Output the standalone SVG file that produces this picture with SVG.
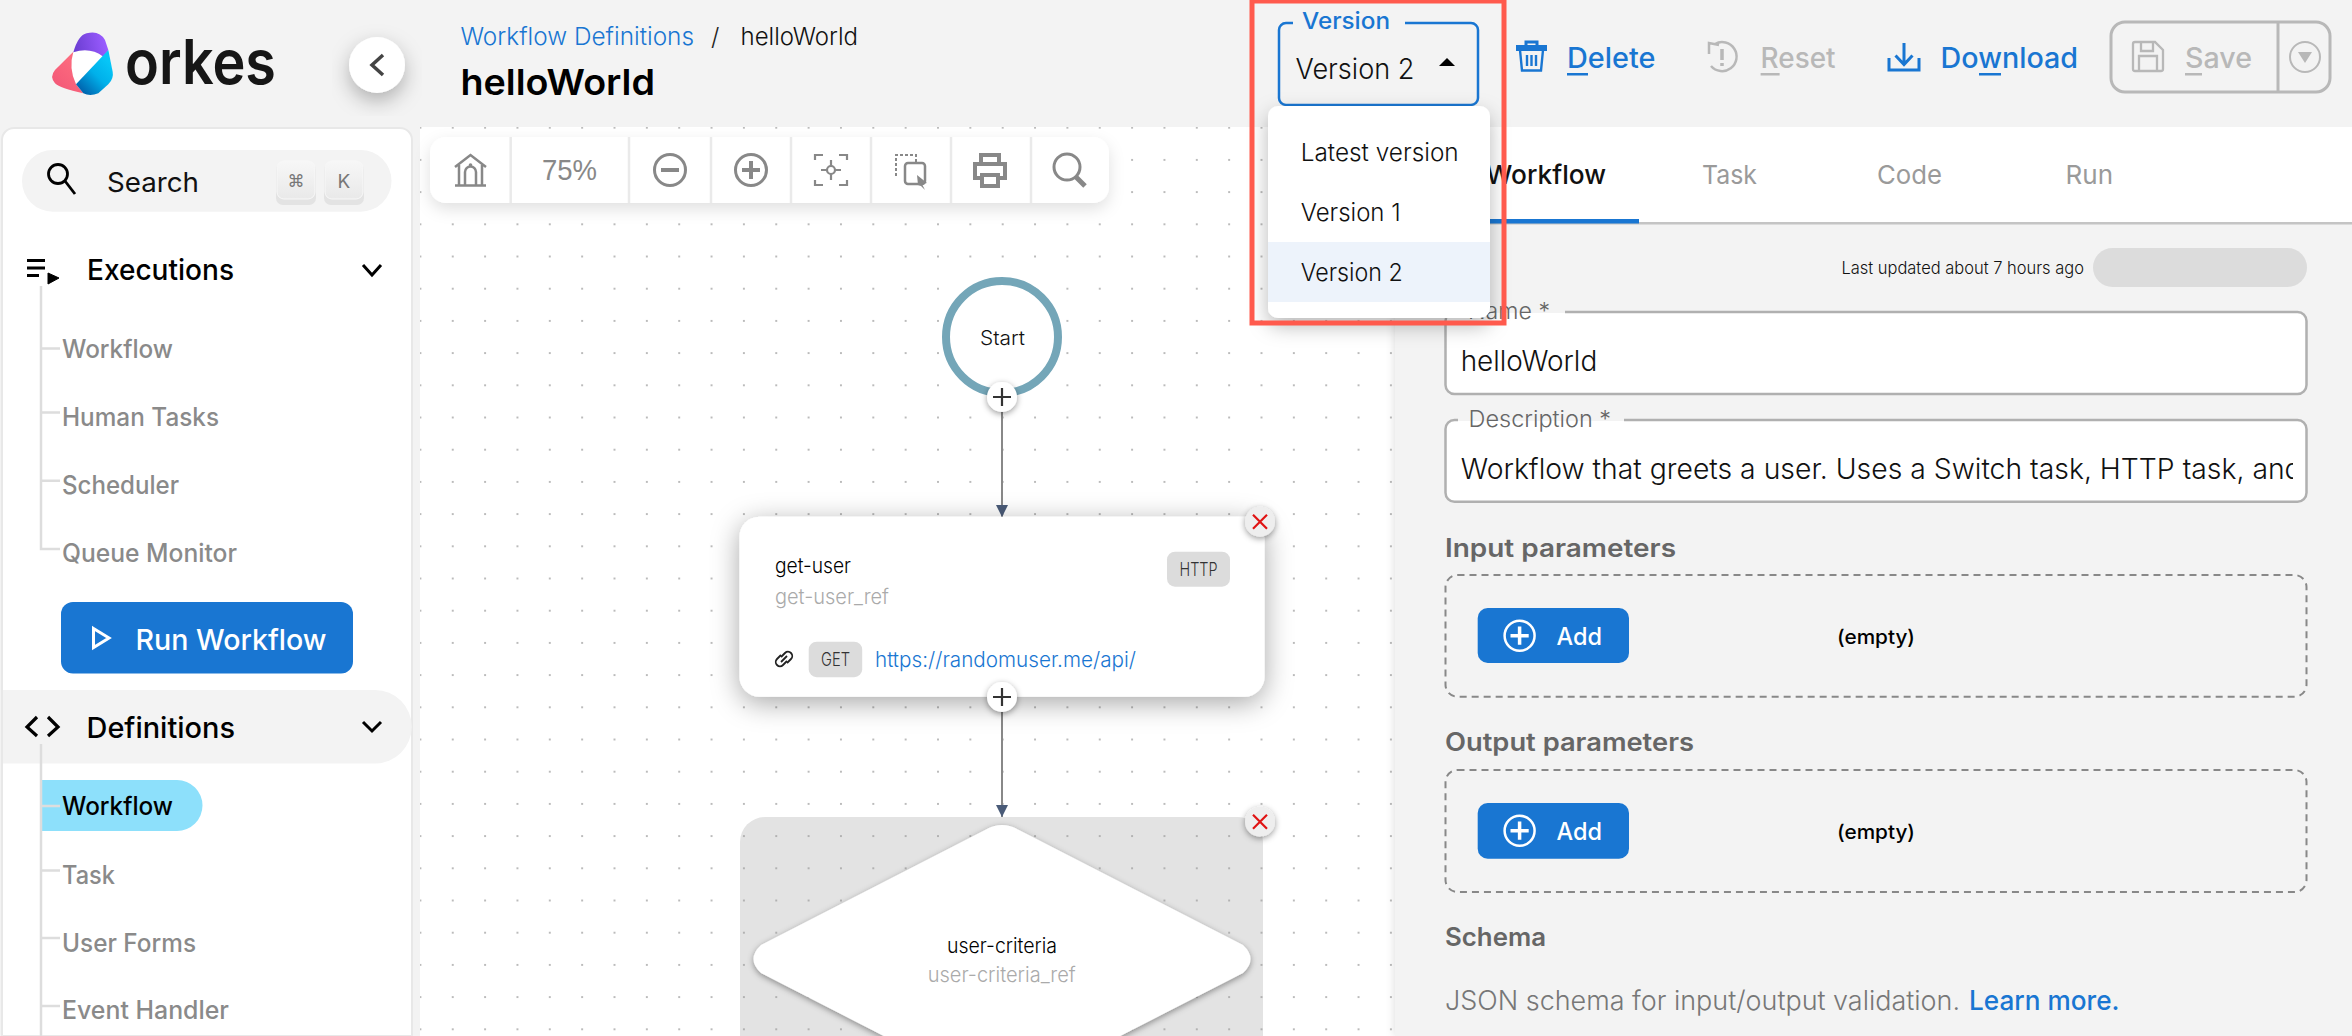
<svg xmlns="http://www.w3.org/2000/svg" width="2352" height="1036" viewBox="0 0 2352 1036">
<style>
text{font-family:Inter,"Liberation Sans",sans-serif;fill:#111}
.nav{font-size:25px;font-weight:500;fill:#8a8a8a}
.sec{font-size:29px;font-weight:500;fill:#000}
.act{font-size:28px;font-weight:500;fill:#1976d2}
.dis{font-size:28px;font-weight:500;fill:#b8b8b8}
.tab{font-size:26px;font-weight:400;fill:#9a9a9a}
.item{font-size:24px;font-weight:300;fill:#111}
.inp{font-size:28px;font-weight:300;fill:#111}
.lab{font-size:23px;font-weight:300;fill:#666}
.h{font-size:25px;font-weight:600;fill:#666}
.nt{font-size:21px;font-weight:300;fill:#000}
.rf{font-size:21px;font-weight:300;fill:#aaa}
.tag{font-size:18px;font-weight:300;fill:#333}
.add{font-size:24px;font-weight:500;fill:#fff}
.emp{font-size:20px;font-weight:500;fill:#000}
.icg{fill:none;stroke:#888;stroke-width:3}
.blu{fill:none;stroke:#1976d2;stroke-width:3}
.gry{fill:none;stroke:#b8b8b8;stroke-width:3}
.line{stroke:#ddd;stroke-width:2.5;fill:none}
.div{stroke:#eaeaea;stroke-width:2.5}
.field{fill:#fff;stroke:#b0b0b0;stroke-width:2.5}
.dash{fill:none;stroke:#888;stroke-width:2;stroke-dasharray:7 5}
.btn{fill:#1976d2}
.tagb{fill:#dcdcdc}
.cls{fill:#eee}
.x{stroke:#e01414;stroke-width:2.2;fill:none}
.plus{stroke:#333;stroke-width:2.2;fill:none}
.conn{stroke:#888;stroke-width:2;fill:none}
</style>
<defs>
<pattern id="dots" x="420.4" y="127.7" width="32.35" height="32.2" patternUnits="userSpaceOnUse"><rect x="-.8" y="-.8" width="1.6" height="1.6" fill="#999"/><rect x="31.55" y="-.8" width="1.6" height="1.6" fill="#999"/><rect x="-.8" y="31.4" width="1.6" height="1.6" fill="#999"/><rect x="31.55" y="31.4" width="1.6" height="1.6" fill="#999"/></pattern>
<filter id="sh" x="-30%" y="-30%" width="160%" height="170%"><feDropShadow dx="0" dy="8" stdDeviation="10" flood-color="#000" flood-opacity=".28"/></filter>
<filter id="shs" x="-30%" y="-30%" width="160%" height="160%"><feDropShadow dx="0" dy="2" stdDeviation="3" flood-color="#000" flood-opacity=".4"/></filter>
<filter id="shb" x="-12%" y="-25%" width="124%" height="160%"><feDropShadow dx="0" dy="6" stdDeviation="14" flood-color="#000" flood-opacity=".35"/></filter>
<filter id="shl" x="-10%" y="-30%" width="120%" height="170%"><feDropShadow dx="0" dy="6" stdDeviation="8" flood-color="#000" flood-opacity=".12"/></filter>
<filter id="shp" x="-5%" y="-5%" width="110%" height="110%"><feDropShadow dx="-1" dy="0" stdDeviation="4" flood-color="#000" flood-opacity=".12"/></filter>
<linearGradient id="cy" x1="120" y1="195" x2="205" y2="110" gradientUnits="userSpaceOnUse"><stop offset="0" stop-color="#0062ad"/><stop offset=".55" stop-color="#00b0ea"/><stop offset="1" stop-color="#06c6f7"/></linearGradient>
<linearGradient id="pu" x1="110" y1="80" x2="200" y2="60" gradientUnits="userSpaceOnUse"><stop offset="0" stop-color="#6d3fd4"/><stop offset="1" stop-color="#9a5cff"/></linearGradient>
<linearGradient id="pk" x1="40" y1="170" x2="100" y2="110" gradientUnits="userSpaceOnUse"><stop offset="0" stop-color="#f45a78"/><stop offset="1" stop-color="#fc6a7e"/></linearGradient>
<linearGradient id="key" x1="0" y1="0" x2="0" y2="1"><stop offset="0" stop-color="#f7f7f7"/><stop offset="1" stop-color="#e9e9e9"/></linearGradient>
<clipPath id="canvasclip"><rect x="420" y="127" width="975" height="909"/></clipPath>
<clipPath id="descclip"><rect x="1455" y="440" width="838" height="55"/></clipPath>
<marker id="arr" markerUnits="userSpaceOnUse" markerWidth="12" markerHeight="12" refX="12" refY="6" orient="auto"><path d="M0 0L12 6L0 12Z" fill="#4a5b78"/></marker>
</defs>

<rect width="2352" height="1036" fill="#f3f3f3"/>

<g id="canvas" clip-path="url(#canvasclip)">
<rect x="420" y="127" width="975" height="909" fill="#fff"/>
<path d="M740 1036V842a25 25 0 0 1 25-25H1238a25 25 0 0 1 25 25V1036Z" fill="#e3e3e3"/>
<rect x="420" y="127" width="975" height="909" fill="url(#dots)"/>
</g>

<g id="connectors">
<path class="conn" d="M1002 411V517" marker-end="url(#arr)"/>
<path class="conn" d="M1002 711V817" marker-end="url(#arr)"/>
</g>

<g id="start">
<circle cx="1002" cy="337" r="56" fill="#fff" stroke="#74a6b8" stroke-width="8"/>
<text x="980" y="345" font-size="20" font-weight="300" textLength="45" lengthAdjust="spacingAndGlyphs">Start</text>
<g filter="url(#shs)"><circle cx="1002" cy="397" r="15" fill="#fff"/></g>
<path class="plus" d="M1002 388V406M993 397H1011"/>
</g>

<g id="get-user">
<rect x="739.5" y="516.7" width="525" height="180" rx="20" fill="#fff" filter="url(#shb)"/>
<text class="nt" x="775" y="573" textLength="76" lengthAdjust="spacingAndGlyphs">get-user</text>
<text class="rf" x="775" y="603.500" textLength="114" lengthAdjust="spacingAndGlyphs">get-user_ref</text>
<rect class="tagb" x="1167" y="551.7" width="63" height="35" rx="8"/>
<text class="tag" x="1179.5" y="575.500" textLength="38" lengthAdjust="spacingAndGlyphs">HTTP</text>
<g fill="none" stroke="#222" stroke-width="1.8"><path d="M781 655l-4 4a3.500 3.500 0 0 0 6 6l4-4"/><path d="M787 663l4-4a3.500 3.500 0 0 0-6-6l-4 4"/><path d="M781 662l6-6"/></g>
<rect class="tagb" x="808.7" y="641.7" width="53.5" height="35.5" rx="8"/>
<text class="tag" x="821" y="665.500" textLength="29" lengthAdjust="spacingAndGlyphs">GET</text>
<text x="875" y="666.500" font-size="21" font-weight="300" style="fill:#1976d2" textLength="261" lengthAdjust="spacingAndGlyphs">https://randomuser.me/api/</text>
<g filter="url(#shs)"><circle cx="1002" cy="697" r="15" fill="#fff"/></g>
<path class="plus" d="M1002 688V706M993 697H1011"/>
<g filter="url(#shs)"><circle class="cls" cx="1260" cy="521.7" r="15"/></g>
<path class="x" d="M1253 514.7L1267 528.7M1267 514.7L1253 528.7"/>
</g>

<g id="user-criteria">
<g filter="url(#shs)"><path d="M985 830Q1002 820 1019 830L1243 945Q1258 959 1243 973L1019 1088Q1002 1098 985 1088L761 973Q746 959 761 945Z" fill="#fff" clip-path="url(#canvasclip)"/></g>
<text class="nt" x="947" y="952.500" textLength="110" lengthAdjust="spacingAndGlyphs">user-criteria</text>
<text class="rf" x="927.7" y="981.500" textLength="148" lengthAdjust="spacingAndGlyphs">user-criteria_ref</text>
<g filter="url(#shs)"><circle class="cls" cx="1260" cy="821.7" r="15"/></g>
<path class="x" d="M1253 814.7L1267 828.7M1267 814.7L1253 828.7"/>
</g>

<g id="toolbar">
<rect x="430" y="137" width="679" height="66" rx="16" fill="#fff" filter="url(#shl)"/>
<path class="div" d="M510.7 137V203M629 137V203M711 137V203M791 137V203M871 137V203M951 137V203M1031 137V203"/>
<path class="icg" style="stroke-width:2.500" d="M455 167L470.5 155L486 167M459 165V185M482 165V185M455 185.5H486M465 185V172a5.5 5.500 0 0 1 11 0V185"/>
<circle cx="470.5" cy="165" r="1.8" fill="#888"/>
<text x="542" y="180" font-size="30" style="font-family:'Liberation Sans',sans-serif;fill:#888" textLength="55" lengthAdjust="spacingAndGlyphs">75%</text>
<circle class="icg" cx="670" cy="170" r="15.5"/><path d="M661 170H679" stroke="#888" stroke-width="4"/>
<circle class="icg" cx="751" cy="170" r="15.5"/><path d="M742 170H760M751 161V179" stroke="#888" stroke-width="4"/>
<path class="icg" style="stroke-width:2.200" d="M815 160V155H823M839 155H847V160M815 180V185H823M839 185H847V180"/>
<circle class="icg" style="stroke-width:2.200" cx="831" cy="170" r="4"/><path class="icg" style="stroke-width:2.200" d="M831 160V166M831 174V180M821 170H827M835 170H841"/>
<path class="icg" style="stroke-width:2;stroke-dasharray:3 2" d="M896 176V155H916V162"/>
<rect class="icg" style="stroke-width:2.500" x="905" y="163" width="20" height="21" rx="3"/>
<path d="M917 175L927 183L922 184L925 190L921 186L918 185Z" fill="#888"/>
<path d="M981 165V155H999V165M981 178H975V164H1005V178H999" fill="none" stroke="#888" stroke-width="4"/><rect class="icg" style="stroke-width:4" x="982" y="175" width="16" height="11"/>
<circle class="icg" cx="1067" cy="167" r="13"/><path d="M1076 177L1085 186" stroke="#888" stroke-width="5"/>
</g>

<g id="sidebar">
<path d="M2 140a12 12 0 0 1 12-12H400a12 12 0 0 1 12 12V1036H2Z" fill="#fff" stroke="#e8e8e8" stroke-width="2"/>
<rect x="22" y="150" width="369.500" height="61.700" rx="30.800" fill="#f3f3f3"/>
<circle cx="58" cy="174" r="9.500" fill="none" stroke="#000" stroke-width="2.800"/><path d="M65 181L75 194" stroke="#000" stroke-width="2.800"/>
<text x="107" y="191.500" font-size="27" style="fill:#111" textLength="92" lengthAdjust="spacingAndGlyphs">Search</text>
<rect x="276" y="163" width="40" height="42" rx="7" fill="#e3e3e3"/><rect x="277" y="161" width="38" height="38" rx="7" fill="url(#key)" stroke="#f8f8f8"/>
<rect x="324" y="163" width="40" height="42" rx="7" fill="#e3e3e3"/><rect x="325" y="161" width="38" height="38" rx="7" fill="url(#key)" stroke="#f8f8f8"/>
<text x="296" y="187" font-size="17" text-anchor="middle" style="font-family:'DejaVu Sans',sans-serif;fill:#777">⌘</text>
<text x="344" y="188" font-size="19" text-anchor="middle" style="fill:#777">K</text>
<path d="M27 260.500H45M27 268H45M27 275.500H39" stroke="#000" stroke-width="3"/><path d="M48 273L59 278L48 284Z" fill="#000" stroke="#000"/>
<text class="sec" x="87" y="279.500" textLength="147" lengthAdjust="spacingAndGlyphs">Executions</text>
<path d="M363 265L372 275L381 265" fill="none" stroke="#000" stroke-width="3"/>
<path class="line" d="M41 286V549H60M41 348.500H60M41 412.400H60M41 480.700H60"/>
<text class="nav" x="62" y="358" textLength="111" lengthAdjust="spacingAndGlyphs">Workflow</text>
<text class="nav" x="62" y="426" textLength="157" lengthAdjust="spacingAndGlyphs">Human Tasks</text>
<text class="nav" x="62" y="494" textLength="117" lengthAdjust="spacingAndGlyphs">Scheduler</text>
<text class="nav" x="62" y="561.500" textLength="175" lengthAdjust="spacingAndGlyphs">Queue Monitor</text>
<rect class="btn" x="61" y="602" width="292" height="71.600" rx="12"/>
<path d="M93.500 628.500L109 638L93.500 647.500Z" fill="none" stroke="#fff" stroke-width="3"/>
<text x="135.500" y="650" font-size="29" font-weight="500" style="fill:#fff" textLength="191" lengthAdjust="spacingAndGlyphs">Run Workflow</text>
<path d="M3 690H375a36.700 36.700 0 0 1 0 73.500H3Z" fill="#f3f3f3"/>
<path d="M37 717L27 727L37 736M48 717L58 727L48 736" fill="none" stroke="#000" stroke-width="3.200"/>
<text class="sec" x="86.500" y="738" textLength="148.500" lengthAdjust="spacingAndGlyphs">Definitions</text>
<path d="M363 722L372 731L381 722" fill="none" stroke="#000" stroke-width="3"/>
<path d="M42 780H177a25.500 25.500 0 0 1 0 51H42Z" fill="#8de0fb"/>
<path class="line" d="M41 744V1036M41 806H60M41 870.500H60M41 938H60M41 1006H60"/>
<text class="nav" x="62" y="815" style="fill:#000" textLength="111" lengthAdjust="spacingAndGlyphs">Workflow</text>
<text class="nav" x="62" y="883.500" textLength="53" lengthAdjust="spacingAndGlyphs">Task</text>
<text class="nav" x="62" y="952" textLength="134" lengthAdjust="spacingAndGlyphs">User Forms</text>
<text class="nav" x="62" y="1019" textLength="167" lengthAdjust="spacingAndGlyphs">Event Handler</text>
</g>

<g id="panel">
<rect x="1395" y="127" width="957" height="909" fill="#f3f3f3" filter="url(#shp)"/>
<rect x="1395" y="127" width="957" height="96" fill="#fff"/>
<rect x="1395" y="222" width="957" height="2.500" fill="#c4c4c4"/>
<rect x="1395" y="219" width="244" height="4.500" fill="#1976d2"/>
<text x="1486" y="184" font-size="26" font-weight="500" style="fill:#111" textLength="120" lengthAdjust="spacingAndGlyphs">Workflow</text>
<text class="tab" x="1702" y="184" textLength="55" lengthAdjust="spacingAndGlyphs">Task</text>
<text class="tab" x="1877" y="184" textLength="65" lengthAdjust="spacingAndGlyphs">Code</text>
<text class="tab" x="2065.600" y="184" textLength="47.500" lengthAdjust="spacingAndGlyphs">Run</text>
<text x="1841.400" y="273.500" font-size="17" font-weight="300" style="fill:#111" textLength="242.600" lengthAdjust="spacingAndGlyphs">Last updated about 7 hours ago</text>
<rect x="2093" y="248" width="214" height="39" rx="19.500" fill="#dcdcdc"/>
<rect class="field" x="1445.500" y="312" width="861" height="82" rx="9"/>
<rect x="1458" y="300" width="107" height="13" fill="#f3f3f3"/><rect x="1458" y="313" width="107" height="6" fill="#fff"/>
<text class="lab" x="1468" y="319" textLength="82" lengthAdjust="spacingAndGlyphs">Name *</text>
<text class="inp" x="1460.700" y="370.500" textLength="136.500" lengthAdjust="spacingAndGlyphs">helloWorld</text>
<rect class="field" x="1445.500" y="420" width="861" height="81.700" rx="9"/>
<rect x="1458" y="408" width="166" height="13" fill="#f3f3f3"/><rect x="1458" y="421" width="166" height="7" fill="#fff"/>
<text class="lab" x="1468.600" y="427" textLength="142.500" lengthAdjust="spacingAndGlyphs">Description *</text>
<g clip-path="url(#descclip)"><text class="inp" x="1460.700" y="478.500" textLength="841" lengthAdjust="spacingAndGlyphs">Workflow that greets a user. Uses a Switch task, HTTP task, and</text></g>
<text class="h" x="1445" y="556.500" textLength="231" lengthAdjust="spacingAndGlyphs">Input parameters</text>
<rect class="dash" x="1445.500" y="575" width="861" height="121.700" rx="12"/>
<rect class="btn" x="1477.700" y="608" width="151.300" height="55" rx="10"/>
<circle cx="1519.600" cy="635.700" r="15" fill="none" stroke="#fff" stroke-width="2.500"/><path d="M1510.500 635.700H1528.700M1519.600 626.600V644.800" stroke="#fff" stroke-width="3.500"/>
<text class="add" x="1556.600" y="645" textLength="45.400" lengthAdjust="spacingAndGlyphs">Add</text>
<text class="emp" x="1837" y="643.500" textLength="78" lengthAdjust="spacingAndGlyphs">(empty)</text>
<text class="h" x="1445" y="751" textLength="249" lengthAdjust="spacingAndGlyphs">Output parameters</text>
<rect class="dash" x="1445.500" y="770" width="861" height="122" rx="12"/>
<rect class="btn" x="1477.700" y="803" width="151.300" height="55.700" rx="10"/>
<circle cx="1519.600" cy="830.700" r="15" fill="none" stroke="#fff" stroke-width="2.500"/><path d="M1510.500 830.700H1528.700M1519.600 821.600V839.800" stroke="#fff" stroke-width="3.500"/>
<text class="add" x="1556.600" y="840" textLength="45.400" lengthAdjust="spacingAndGlyphs">Add</text>
<text class="emp" x="1837" y="838.500" textLength="78" lengthAdjust="spacingAndGlyphs">(empty)</text>
<text class="h" x="1445" y="946" textLength="101" lengthAdjust="spacingAndGlyphs">Schema</text>
<text x="1445" y="1009.500" font-size="27" font-weight="300" style="fill:#777" textLength="515" lengthAdjust="spacingAndGlyphs">JSON schema for input/output validation.</text>
<text x="1969" y="1009.500" font-size="27" font-weight="500" style="fill:#1976d2" textLength="150.500" lengthAdjust="spacingAndGlyphs">Learn more.</text>
</g>

<g id="header">
<rect x="0" y="0" width="2352" height="127" fill="#f3f3f3"/>
<g id="logo" transform="translate(40 25) scale(.3333)">
<path d="M100 82Q150 65 190 95L108 178Q85 130 100 82Z" fill="#fff"/>
<path d="M100 80L45 135Q28 155 45 175Q60 190 130 205L108 178Q85 130 100 80Z" fill="url(#pk)"/>
<path d="M100 82Q115 30 140 25Q178 15 195 45L205 75L190 95Q150 65 100 82Z" fill="url(#pu)"/>
<path d="M205 75L218 140Q222 160 205 178L175 205Q150 215 130 205L108 178Z" fill="url(#cy)"/>
</g>
<text x="125" y="84" font-size="62" font-weight="600" style="fill:#161616" textLength="151" lengthAdjust="spacingAndGlyphs">orkes</text>
<circle cx="377" cy="65" r="28" fill="#fff" filter="url(#sh)"/>
<path d="M383 55L372 65L383 75" fill="none" stroke="#444" stroke-width="3.500"/>
<text x="460.500" y="45" font-size="24" font-weight="300" style="fill:#1976d2" textLength="233.500" lengthAdjust="spacingAndGlyphs">Workflow Definitions</text>
<text x="711" y="45" font-size="24" font-weight="300" style="fill:#222">/</text>
<text x="740.500" y="45" font-size="24" font-weight="300" style="fill:#111" textLength="117.500" lengthAdjust="spacingAndGlyphs">helloWorld</text>
<text x="460.500" y="95" font-size="36" font-weight="600" style="fill:#000" textLength="194.500" lengthAdjust="spacingAndGlyphs">helloWorld</text>
<path d="M1516 48H1547" stroke="#1976d2" stroke-width="6"/><path d="M1526 45V42H1537V45" fill="none" stroke="#1976d2" stroke-width="3"/>
<path class="blu" d="M1520 50L1522 70.500H1541L1543 50M1527 55V66M1531.500 55V66M1536 55V66" style="stroke-width:2.400"/>
<text class="act" x="1567" y="68" textLength="88.500" lengthAdjust="spacingAndGlyphs">Delete</text><rect x="1567" y="73" width="21" height="2.500" fill="#1976d2"/>
<path class="gry" d="M1715 44A14.500 14.500 0 1 1 1711 66M1709 54V43L1719 45" style="stroke-width:2.500"/><path d="M1722 49V60M1722 63V66" stroke="#b8b8b8" stroke-width="3.500"/>
<text class="dis" x="1760.600" y="68" textLength="75" lengthAdjust="spacingAndGlyphs">Reset</text><rect x="1760.600" y="73" width="19" height="2.500" fill="#b8b8b8"/>
<path class="blu" d="M1904 43V64M1895.500 55.500L1904 64.500L1912.500 55.500M1889 58V70H1919V58"/>
<text class="act" x="1940.600" y="68" textLength="137.400" lengthAdjust="spacingAndGlyphs">Download</text><rect x="1979" y="73" width="22" height="2.500" fill="#1976d2"/>
<rect x="2111" y="22" width="219" height="70" rx="14" fill="none" stroke="#b8b8b8" stroke-width="3"/>
<path d="M2278 22V92" stroke="#b8b8b8" stroke-width="3"/>
<path class="gry" d="M2133 44a2 2 0 0 1 2-2H2155L2163 50V69a2 2 0 0 1-2 2H2135a2 2 0 0 1-2-2ZM2141 42V51H2153V42M2139 71V56H2157V71" style="stroke-width:2.300"/>
<text class="dis" x="2185" y="68" textLength="67" lengthAdjust="spacingAndGlyphs">Save</text><rect x="2185" y="73" width="17" height="2.500" fill="#b8b8b8"/>
<circle class="gry" cx="2305" cy="57" r="15" style="stroke-width:2"/><path d="M2298 52H2312L2305 63Z" fill="#b8b8b8"/>
</g>

<g id="version">
<path d="M1293 23H1286a7 7 0 0 0-7 7V98a7 7 0 0 0 7 7H1471a7 7 0 0 0 7-7V30a7 7 0 0 0-7-7H1405" fill="none" stroke="#1976d2" stroke-width="2.500"/>
<text x="1302" y="29" font-size="23" font-weight="500" style="fill:#1976d2" textLength="88" lengthAdjust="spacingAndGlyphs">Version</text>
<text x="1295.500" y="79" font-size="28" font-weight="300" style="fill:#111" textLength="119" lengthAdjust="spacingAndGlyphs">Version 2</text>
<path d="M1439 66L1447 58L1455 66Z" fill="#000"/>
<rect x="1268" y="106" width="222" height="212" rx="10" fill="#fff" filter="url(#sh)"/>
<rect x="1268" y="242" width="222" height="60" fill="#edf3fb"/>
<text class="item" x="1300.700" y="161" textLength="158" lengthAdjust="spacingAndGlyphs">Latest version</text>
<text class="item" x="1300.700" y="221" textLength="100" lengthAdjust="spacingAndGlyphs">Version 1</text>
<text class="item" x="1300.700" y="281" textLength="102" lengthAdjust="spacingAndGlyphs">Version 2</text>
<rect x="1252" y="1" width="252" height="322" fill="none" stroke="#ff5a4d" stroke-width="5"/>
</g>
</svg>
